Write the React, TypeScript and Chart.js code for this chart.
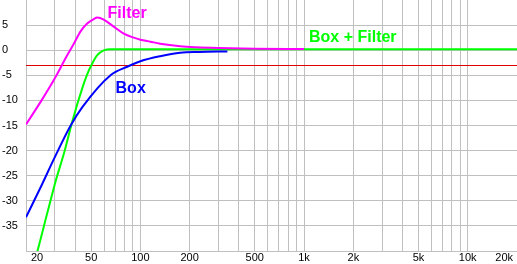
import React, { useEffect, useRef } from "react";
import { Chart, registerables } from "chart.js";

Chart.register(...registerables);

// Frequencies (Hz) and levels (dB)
const filterFreq = [20, 25, 30, 35.7, 39.2, 43, 47.3, 51.9, 54.5, 59.7, 68.7, 79.1, 91, 100, 115, 132, 175, 220, 300, 500, 1000];
const filterDb = [-14.8, -9.9, -5.6, -1.0, 1.3, 3.7, 5.3, 6.2, 6.5, 6.1, 4.7, 3.3, 2.5, 2.1, 1.7, 1.3, 0.8, 0.6, 0.45, 0.3, 0.25];

const boxFreq = [20, 25, 30, 37.5, 44.3, 65.7, 83, 100, 132, 175, 230, 340];
const boxDb = [-33.3, -26.8, -21.3, -15.0, -11.3, -5.0, -3.3, -2.2, -1.2, -0.5, -0.35, -0.25];

const sumFreq = [20, 23.5, 27.1, 30.4, 34.3, 38.5, 44.3, 47.3, 50.7, 54.5, 59.7, 65.7, 100, 1000, 20000];
const sumDb = [-48, -40, -32.2, -26, -20.3, -14, -7.4, -4.8, -2.7, -1.0, -0.05, 0.2, 0.2, 0.2, 0.2];

const gridFreqs = [20, 30, 40, 50, 60, 70, 80, 90, 100, 200, 300, 400, 500, 600, 700, 800, 900, 1000, 2000, 3000, 4000, 5000, 6000, 7000, 8000, 9000, 10000, 20000];
const xLabelFreqs = [20, 50, 100, 200, 500, 1000, 2000, 5000, 10000, 20000];
const xLabelTexts = ["20", "50", "100", "200", "500", "1k", "2k", "5k", "10k", "20k"];
const yTicks = [-40, -35, -30, -25, -20, -15, -10, -5, 0, 5, 10];
const refLevel = -3;

// Curve names with their label anchor (Hz, dB)
const curveNames = ["Filter", "Box", "Box + Filter"];
const curveColors = ["#ff00ff", "#0000ff", "#00ff00"];
const nameFreq = [63, 70.5, 1072];
const nameDb = [6.4, -8.6, 1.6];

const toXY = (f: number[], d: number[]) => f.map((x, i) => ({ x, y: d[i] }));

export default function App() {
  const ref = useRef<HTMLCanvasElement | null>(null);
  useEffect(() => {
    const canvas = ref.current!;
    const font = "Liberation Sans, Arial, sans-serif";
    const refLinePlugin = {
      id: "refline",
      beforeDatasetsDraw(chart: any) {
        const ctx = chart.ctx;
        const ys = chart.scales.y;
        const a = chart.chartArea;
        const py = Math.round(ys.getPixelForValue(refLevel)) + 0.5;
        ctx.save();
        ctx.strokeStyle = "#e00000";
        ctx.lineWidth = 1;
        ctx.beginPath();
        ctx.moveTo(a.left, py);
        ctx.lineTo(a.right, py);
        ctx.stroke();
        ctx.restore();
      },
    };
    const labelPlugin = {
      id: "labels",
      afterDraw(chart: any) {
        const ctx = chart.ctx;
        const xs = chart.scales.x;
        const ys = chart.scales.y;
        ctx.save();
        ctx.font = `11px ${font}`;
        ctx.fillStyle = "#000";
        ctx.textBaseline = "middle";
        xLabelFreqs.forEach((f, i) => {
          let px = xs.getPixelForValue(f);
          if (i === 0) {
            ctx.textAlign = "left";
            px += 5;
          } else if (i === xLabelFreqs.length - 1) {
            ctx.textAlign = "right";
            px -= 4;
          } else {
            ctx.textAlign = "center";
          }
          ctx.fillText(xLabelTexts[i], px, 258);
        });
        ctx.font = `bold 16px ${font}`;
        ctx.textAlign = "left";
        ctx.textBaseline = "alphabetic";
        curveNames.forEach((n, i) => {
          ctx.fillStyle = curveColors[i];
          ctx.fillText(n, xs.getPixelForValue(nameFreq[i]), ys.getPixelForValue(nameDb[i]));
        });
        ctx.restore();
      },
    };
    const chart = new Chart(canvas, {
      type: "line",
      data: {
        datasets: [
          { data: toXY(filterFreq, filterDb), borderColor: curveColors[0], borderWidth: 2, pointRadius: 0, cubicInterpolationMode: "monotone" },
          { data: toXY(boxFreq, boxDb), borderColor: curveColors[1], borderWidth: 2, pointRadius: 0, cubicInterpolationMode: "monotone" },
          { data: toXY(sumFreq, sumDb), borderColor: curveColors[2], borderWidth: 2, pointRadius: 0, cubicInterpolationMode: "monotone" },
        ],
      },
      options: {
        animation: false,
        responsive: false,
        devicePixelRatio: 1,
        layout: { padding: { left: 2, right: 0, top: 0, bottom: 0 } },
        plugins: { legend: { display: false }, tooltip: { enabled: false } },
        scales: {
          x: {
            type: "logarithmic",
            min: 20,
            max: 20000,
            afterBuildTicks: (s: any) => {
              s.ticks = gridFreqs.map((v) => ({ value: v }));
            },
            afterFit: (s: any) => {
              s.height = 13;
            },
            ticks: { display: false },
            grid: { color: "#c0c0c0", drawTicks: false },
            border: { display: true, color: "#c0c0c0" },
          },
          y: {
            min: -40,
            max: 10,
            afterBuildTicks: (s: any) => {
              s.ticks = yTicks.map((v) => ({ value: v }));
            },
            afterFit: (s: any) => {
              s.width = 24;
              s.paddingTop = 0;
              s.paddingBottom = 0;
            },
            ticks: {
              crossAlign: "far",
              color: "#000",
              font: { family: font, size: 11 },
              callback: (v: any) => (v === 10 || v === -40 ? "" : String(v)),
            },
            grid: {
              drawTicks: false,
              color: (c: any) => (c.tick && c.tick.value === 10 ? "rgba(0,0,0,0)" : "#c0c0c0"),
            },
            border: { display: true, color: "#c0c0c0" },
          },
        },
      } as any,
      plugins: [refLinePlugin, labelPlugin],
    });
    return () => chart.destroy();
  }, []);
  return (
    <canvas
      ref={ref}
      width={517}
      height={264}
      style={{ position: "absolute", left: 0, top: 0, display: "block", background: "#fff" }}
    />
  );
}
